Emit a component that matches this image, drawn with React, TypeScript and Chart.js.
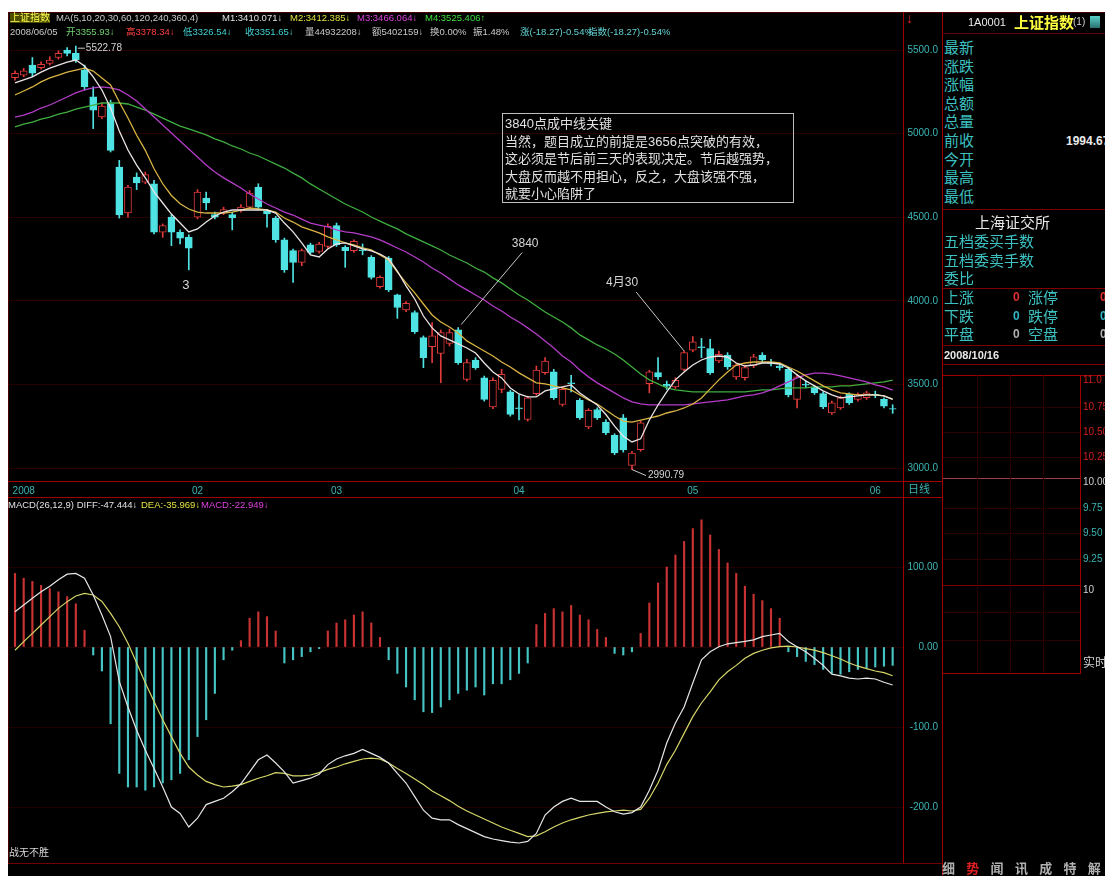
import React, { useEffect, useRef } from 'react';
import { Chart, registerables } from 'chart.js';
Chart.register(...registerables);

// ---------- data ----------
const OPEN = [
  5335, 5350, 5410, 5395, 5420, 5455, 5500, 5480, 5380, 5220,
  5100, 5180, 4800, 4525, 4740, 4710, 4700, 4410, 4500, 4410,
  4380, 4500, 4615, 4515, 4525, 4515, 4540, 4560, 4680, 4535,
  4495, 4365, 4300, 4230, 4335, 4295, 4325, 4450, 4320, 4300,
  4305, 4260, 4085, 4255, 4035, 3945, 3930, 3780, 3725, 3685,
  3745, 3826, 3530, 3645, 3540, 3365, 3470, 3455, 3360, 3290,
  3445, 3570, 3575, 3380, 3510, 3405, 3245, 3350, 3275, 3195,
  3300, 3015, 3110, 3505, 3570, 3500, 3485, 3590, 3705, 3725,
  3715, 3640, 3675, 3545, 3540, 3610, 3676, 3630, 3610, 3590,
  3410, 3500, 3485, 3445, 3330, 3360, 3440, 3410, 3420, 3440,
  3410, 3355.93,
];
const HIGH = [
  5375, 5390, 5455, 5430, 5460, 5495, 5515, 5522.78, 5410, 5280,
  5185, 5200, 4840, 4690, 4765, 4770, 4720, 4460, 4515, 4425,
  4395, 4665, 4650, 4530, 4560, 4530, 4575, 4660, 4700, 4545,
  4505, 4375, 4310, 4310, 4345, 4350, 4460, 4465, 4330, 4365,
  4340, 4270, 4150, 4265, 4040, 3995, 3940, 3790, 3870, 3825,
  3830, 3840, 3650, 3660, 3550, 3540, 3590, 3465, 3437, 3430,
  3610, 3660, 3590, 3480, 3555, 3415, 3355, 3360, 3290, 3205,
  3320, 3100, 3280, 3585, 3660, 3520, 3540, 3700, 3786, 3775,
  3770, 3700, 3690, 3625, 3615, 3680, 3690, 3650, 3625, 3600,
  3560, 3520, 3495, 3455, 3400, 3430, 3450, 3450, 3460, 3460,
  3420, 3378.34,
];
const LOW = [
  5320, 5340, 5340, 5385, 5410, 5445, 5465, 5425, 5260, 5030,
  5090, 4890, 4495, 4500, 4665, 4700, 4400, 4380, 4330, 4340,
  4185, 4490, 4545, 4490, 4515, 4424, 4530, 4550, 4550, 4440,
  4350, 4170, 4110, 4210, 4280, 4285, 4315, 4325, 4200, 4290,
  4275, 4130, 4075, 4055, 3895, 3935, 3805, 3600, 3630, 3510,
  3730, 3620, 3520, 3590, 3400, 3355, 3450, 3310, 3287, 3280,
  3435, 3560, 3410, 3370, 3455, 3290, 3235, 3290, 3200, 3080,
  3095, 2990.79, 3100, 3450, 3530, 3470, 3475, 3580, 3695, 3660,
  3560, 3630, 3590, 3530, 3525, 3600, 3636, 3610, 3585, 3425,
  3360, 3480, 3440, 3355, 3320, 3350, 3380, 3400, 3410, 3420,
  3360, 3326.54,
];
const CLOSE = [
  5360, 5375, 5362, 5415, 5440, 5480, 5480, 5440, 5280, 5140,
  5165, 4900, 4513, 4680, 4705, 4755, 4410, 4450, 4410, 4375,
  4315, 4650, 4585, 4500, 4545, 4495, 4560, 4645, 4560, 4520,
  4365, 4185, 4230, 4300, 4290, 4340, 4445, 4335, 4300, 4355,
  4300, 4140, 4140, 4065, 3960, 3985, 3815, 3660, 3790, 3810,
  3810, 3630, 3630, 3600, 3410, 3525, 3560, 3320, 3355, 3420,
  3585, 3640, 3420, 3470, 3505, 3300, 3345, 3300, 3210, 3090,
  3108, 3090, 3270, 3575, 3545, 3490, 3525, 3690, 3755, 3720,
  3570, 3680, 3605, 3615, 3600, 3665, 3646, 3625, 3600, 3437,
  3545, 3495, 3450, 3365, 3390, 3420, 3390, 3440, 3450, 3435,
  3370, 3351.65,
];
const MA5 = [
  5303, 5321, 5339, 5368, 5392, 5410, 5428, 5440, 5404, 5339,
  5261, 5153, 5016, 4902, 4812, 4735, 4651, 4585, 4519, 4465,
  4412, 4430, 4471, 4507, 4531, 4543, 4543, 4543, 4543, 4543,
  4525, 4465, 4412, 4346, 4274, 4262, 4310, 4340, 4346, 4328,
  4310, 4298, 4280, 4250, 4178, 4089, 4011, 3909, 3838, 3790,
  3766, 3742, 3718, 3688, 3628, 3574, 3539, 3479, 3443, 3425,
  3425, 3461, 3473, 3485, 3497, 3449, 3413, 3377, 3320, 3250,
  3190, 3156, 3175, 3287, 3377, 3455, 3527, 3574, 3616, 3646,
  3664, 3670, 3664, 3628, 3610, 3616, 3628, 3628, 3622, 3598,
  3557, 3521, 3491, 3461, 3437, 3419, 3425, 3431, 3437, 3437,
  3431, 3410.07,
];
const MA10 = [
  5231, 5255, 5279, 5309, 5333, 5350, 5368, 5380, 5392, 5374,
  5333, 5291, 5189, 5093, 4990, 4900, 4790, 4700, 4630, 4580,
  4549, 4531, 4525, 4525, 4525, 4531, 4543, 4555, 4549, 4543,
  4531, 4495, 4471, 4442, 4424, 4406, 4382, 4364, 4346, 4334,
  4316, 4304, 4274, 4244, 4172, 4107, 4047, 3981, 3915, 3873,
  3843, 3808, 3760, 3730, 3700, 3670, 3634, 3604, 3569, 3539,
  3509, 3503, 3491, 3479, 3467, 3437, 3407, 3383, 3347, 3311,
  3281, 3275, 3287, 3299, 3311, 3329, 3341, 3359, 3383, 3419,
  3473, 3527, 3574, 3616, 3628, 3634, 3634, 3634, 3628, 3604,
  3580, 3551, 3521, 3491, 3467, 3449, 3443, 3437, 3437, 3437,
  3431, 3412.39,
];
const MA20 = [
  5099, 5111, 5129, 5153, 5171, 5195, 5219, 5243, 5261, 5273,
  5279, 5273, 5261, 5231, 5195, 5147, 5099, 5051, 5004, 4956,
  4908, 4860, 4812, 4770, 4735, 4705, 4675, 4639, 4609, 4579,
  4555, 4531, 4513, 4489, 4465, 4453, 4442, 4424, 4412, 4406,
  4394, 4382, 4364, 4340, 4316, 4292, 4262, 4232, 4196, 4166,
  4131, 4095, 4065, 4035, 4005, 3969, 3939, 3903, 3873, 3838,
  3802, 3760, 3718, 3670, 3634, 3586, 3545, 3509, 3479, 3449,
  3419, 3395, 3383, 3377, 3377, 3377, 3377, 3377, 3383, 3389,
  3395, 3401, 3407, 3419, 3431, 3437, 3449, 3467, 3491, 3515,
  3539, 3557, 3568, 3568, 3562, 3551, 3539, 3527, 3515, 3497,
  3485, 3466.06,
];
const MA30 = [
  5040, 5057, 5069, 5087, 5099, 5117, 5129, 5147, 5159, 5171,
  5183, 5183, 5183, 5177, 5159, 5141, 5117, 5093, 5069, 5045,
  5028, 5010, 4992, 4968, 4950, 4926, 4908, 4884, 4866, 4842,
  4818, 4794, 4764, 4735, 4699, 4669, 4639, 4609, 4579, 4555,
  4531, 4501, 4477, 4453, 4430, 4400, 4376, 4352, 4328, 4304,
  4274, 4250, 4226, 4196, 4172, 4137, 4107, 4071, 4035, 4005,
  3969, 3933, 3903, 3873, 3838, 3796, 3766, 3736, 3712, 3682,
  3646, 3604, 3562, 3527, 3503, 3479, 3467, 3461, 3455, 3455,
  3455, 3455, 3455, 3455, 3455, 3461, 3467, 3467, 3473, 3479,
  3479, 3479, 3485, 3485, 3485, 3491, 3491, 3497, 3503, 3509,
  3515, 3525.41,
];
const DIFF = [
  44, 52.5, 61, 69, 76, 84, 91, 92, 86, 65,
  40, 13, -43, -75, -104, -129, -152, -175, -200, -208,
  -225, -214, -197, -193, -189, -181, -171, -156, -141, -135,
  -145, -156, -170, -167, -164, -159, -147, -140, -136, -133,
  -128, -133, -138, -145, -158, -170, -187, -204, -214, -216,
  -216, -222, -227, -232, -237, -240, -242, -244, -245, -243,
  -233, -210, -200, -193, -189, -193, -193, -193, -200, -206,
  -209, -207, -200, -179, -154, -120, -95, -75, -45, -16,
  -6, 0.4, 4, 5.5, 7, 9, 13, 15, 17, 7,
  0.4, -6, -14, -23, -34, -36, -39, -40, -39, -40,
  -44, -47.444,
];
const DEA = [
  -4, 6.7, 17, 27.5, 38, 48.3, 56.7, 63.8, 67, 65,
  57, 42, 25.4, 4.6, -20, -45, -68, -91, -112, -133,
  -150, -160, -168, -172, -175, -174, -172, -168, -164, -161,
  -157, -158, -161, -161, -160, -157, -153, -150, -146, -143,
  -140, -139, -140, -145, -152, -158, -165, -172, -180, -186,
  -192, -199, -205, -210, -215, -220, -225, -229, -233, -237,
  -236, -231, -225, -220, -216, -213, -210, -208, -206, -205,
  -204, -205, -203, -189, -170, -147, -129, -108, -87, -70,
  -56, -41, -31, -23, -14, -8, -4, -1, 0.4, 1,
  0, -2, -4, -7, -11, -15, -20, -24, -27, -30,
  -32, -35.969,
];
const MACD = [
  92, 86, 82, 77, 73, 69, 63, 54, 21, -10,
  -30, -96, -158, -175, -175, -179, -175, -170, -166, -158,
  -141, -112, -91, -58, -16, -4, 8, 36, 44, 38,
  20, -20, -16, -12, -6, -2, 20, 30, 34, 40,
  44, 30, 12, -16, -33, -50, -66, -81, -82, -75,
  -66, -58, -54, -50, -60, -46, -46, -41, -33, -20,
  28, 42, 48, 44, 52, 40, 34, 22, 12, -8,
  -10, -6, 17, 55, 80, 100, 115, 132, 148, 159,
  140, 122, 105, 92, 76, 66, 58, 48, 36, -6,
  -12, -18, -22, -28, -33, -34, -31, -28, -26, -25,
  -24, -22.949,
];
const PRICE_TICKS = [3000, 3500, 4000, 4500, 5000, 5500];
const MACD_TICKS = [100, 0, -100, -200];
const MACD_TICK_TEXT = ['100.00', '0.00', '-100.0', '-200.0'];
const MONTH_TICKS = [1, 21, 37, 58, 78, 99];
const MONTH_LABELS = ['2008', '02', '03', '04', '05', '06'];

// annotations anchored on candles (index, value)
const NOTES = [
  { i: 7, v: 5522.78, text: '5522.78', line: [2, 2, 9, 2], t: [10, 2], align: 'left', size: 10 },
  { i: 71, v: 2990.79, text: '2990.79', line: [0, 0, 14, 6], t: [16, 6], align: 'left', size: 10 },
  { i: 20, v: 4185, text: '3', line: null, t: [-3, 16], align: 'center', size: 13 },
  { i: 51, v: 3840, text: '3840', line: [3, -3, 64, -75], t: [67, -84], align: 'center', size: 12 },
  { i: 77, v: 3700, text: '4月30', line: [0, 0, -48, -59], t: [-62, -68], align: 'center', size: 12 },
];

// ---------- layout constants ----------
const X_MIN = -0.806;
const X_MAX = 102.19;
const P_MIN = 2916.3;
const P_MAX = 5727.3;
const M_MIN = -270;
const M_MAX = 186.25;
const UP = '#e03a3a';
const DOWN = '#4fe3e3';
const TEAL = '#3cb4b4';
const FONT = "'Liberation Sans', 'Noto Sans CJK SC', sans-serif";

const idx = CLOSE.map((_, i) => i);
const isUp = (i: number) => CLOSE[i] >= OPEN[i];

const notesPlugin = {
  id: 'notes',
  afterDatasetsDraw(chart: any) {
    const { ctx, scales } = chart;
    const xs = scales.x, ys = scales.y;
    ctx.save();
    ctx.strokeStyle = '#c8c8c8';
    ctx.fillStyle = '#d4d4d4';
    ctx.lineWidth = 1;
    ctx.textBaseline = 'middle';
    NOTES.forEach((n) => {
      const px = xs.getPixelForValue(n.i);
      const py = ys.getPixelForValue(n.v);
      if (n.line) {
        ctx.beginPath();
        ctx.moveTo(px + n.line[0], py + n.line[1]);
        ctx.lineTo(px + n.line[2], py + n.line[3]);
        ctx.stroke();
      }
      ctx.font = `${n.size}px ${FONT}`;
      ctx.textAlign = n.align;
      ctx.fillText(n.text, px + n.t[0], py + n.t[1]);
    });
    ctx.restore();
  },
};

function priceConfig(): any {
  return {
    type: 'bar',
    data: {
      datasets: [
        { type: 'line', label: 'MA5', data: idx.map((i) => ({ x: i, y: MA5[i] })), borderColor: '#ece4e4', borderWidth: 1.3, pointRadius: 0, order: 0 },
        { type: 'line', label: 'MA10', data: idx.map((i) => ({ x: i, y: MA10[i] })), borderColor: '#d9b443', borderWidth: 1.3, pointRadius: 0, order: 0 },
        { type: 'line', label: 'MA20', data: idx.map((i) => ({ x: i, y: MA20[i] })), borderColor: '#b43cc8', borderWidth: 1.3, pointRadius: 0, order: 0 },
        { type: 'line', label: 'MA30', data: idx.map((i) => ({ x: i, y: MA30[i] })), borderColor: '#3fae3f', borderWidth: 1.3, pointRadius: 0, order: 0 },
        {
          type: 'bar', label: 'body',
          data: idx.map((i) => ({ x: i, y: [OPEN[i], CLOSE[i]] })),
          backgroundColor: idx.map((i) => (isUp(i) ? '#000000' : DOWN)),
          borderColor: idx.map((i) => (isUp(i) ? UP : DOWN)),
          borderWidth: 1, borderSkipped: false, barThickness: 7, grouped: false, order: 1,
        },
        {
          type: 'bar', label: 'wick',
          data: idx.map((i) => ({ x: i, y: [LOW[i], HIGH[i]] })),
          backgroundColor: idx.map((i) => (isUp(i) ? UP : DOWN)),
          borderWidth: 0, barThickness: 1, grouped: false, order: 2,
        },
      ],
    },
    options: {
      animation: false, responsive: false, maintainAspectRatio: false, events: [],
      layout: { padding: 0 },
      plugins: { legend: { display: false }, tooltip: { enabled: false } },
      scales: {
        x: {
          type: 'linear', min: X_MIN, max: X_MAX, offset: false, position: 'bottom',
          afterBuildTicks: (s: any) => { s.ticks = MONTH_TICKS.map((v) => ({ value: v })); },
          afterFit: (s: any) => { s.height = 16; s.paddingLeft = 0; s.paddingRight = 0; },
          ticks: { autoSkip: false, maxRotation: 0, color: TEAL, padding: 3, font: { size: 10, family: FONT }, callback: (_v: any, k: number) => MONTH_LABELS[k] },
          grid: { display: false, drawTicks: false }, border: { display: false },
        },
        y: {
          position: 'right', min: P_MIN, max: P_MAX,
          afterBuildTicks: (s: any) => { s.ticks = PRICE_TICKS.map((v) => ({ value: v })); },
          afterFit: (s: any) => { s.width = 35; s.paddingTop = 0; s.paddingBottom = 0; },
          ticks: { color: TEAL, padding: 4, crossAlign: 'far', font: { size: 10, family: FONT }, callback: (v: any) => Number(v).toFixed(1) },
          grid: { color: 'rgba(90,0,0,0.45)', drawTicks: false }, border: { display: false },
        },
      },
    },
    plugins: [notesPlugin],
  };
}

function macdConfig(): any {
  return {
    type: 'bar',
    data: {
      datasets: [
        { type: 'line', label: 'DIFF', data: idx.map((i) => ({ x: i, y: DIFF[i] })), borderColor: '#e6e6e6', borderWidth: 1.2, pointRadius: 0, order: 0 },
        { type: 'line', label: 'DEA', data: idx.map((i) => ({ x: i, y: DEA[i] })), borderColor: '#d6d66a', borderWidth: 1.2, pointRadius: 0, order: 0 },
        {
          type: 'bar', label: 'MACD',
          data: idx.map((i) => ({ x: i, y: MACD[i] })),
          backgroundColor: idx.map((i) => (MACD[i] >= 0 ? '#c83232' : '#45c4c4')),
          borderWidth: 0, barThickness: 1.5, grouped: false, order: 1,
        },
      ],
    },
    options: {
      animation: false, responsive: false, maintainAspectRatio: false, events: [],
      layout: { padding: 0 },
      plugins: { legend: { display: false }, tooltip: { enabled: false } },
      scales: {
        x: { type: 'linear', min: X_MIN, max: X_MAX, offset: false, display: false },
        y: {
          position: 'right', min: M_MIN, max: M_MAX,
          afterBuildTicks: (s: any) => { s.ticks = MACD_TICKS.map((v) => ({ value: v })); },
          afterFit: (s: any) => { s.width = 35; s.paddingTop = 0; s.paddingBottom = 0; },
          ticks: { color: TEAL, padding: 4, crossAlign: 'far', font: { size: 10, family: FONT }, callback: (_v: any, k: number) => MACD_TICK_TEXT[k] },
          grid: { color: 'rgba(80,0,0,0.4)', drawTicks: false }, border: { display: false },
        },
      },
    },
  };
}

// page coords -> container coords (container at 8,12)
const T = ({ x, y, c = '#c8c8c8', s = 10, b = false, bg, children }: any) => (
  <span style={{ position: 'absolute', left: x - 8, top: y - 12, transform: 'translateY(-50%)', color: c, fontSize: s, fontWeight: b ? 'bold' : 'normal', whiteSpace: 'nowrap', lineHeight: 1, background: bg }}>{children}</span>
);
const HL = ({ x1, x2, y, c = '#a00000' }: any) => (
  <div style={{ position: 'absolute', left: x1 - 8, top: y - 12, width: x2 - x1, height: 1, background: c }} />
);
const VL = ({ x, y1, y2, c = '#a00000' }: any) => (
  <div style={{ position: 'absolute', left: x - 8, top: y1 - 12, width: 1, height: y2 - y1, background: c }} />
);

const LIST1 = ['最新', '涨跌', '涨幅', '总额', '总量', '前收', '今开', '最高', '最低'];
const LIST2 = ['五档委买手数', '五档委卖手数', '委比'];
const LIST3 = ['上涨', '下跌', '平盘'];
const LIST3B = ['涨停', '跌停', '空盘'];
const DOT_COLORS = ['#e03030', '#30b8c8', '#b0b0b0'];
const MINI_LABELS = [
  ['11.0', '#d02020', 380], ['10.75', '#d02020', 407], ['10.50', '#d02020', 432], ['10.25', '#d02020', 457],
  ['10.00', '#d0d0d0', 482], ['9.75', TEAL, 508], ['9.50', TEAL, 533], ['9.25', TEAL, 559], ['10', '#d0d0d0', 590],
];
const TABS = ['细', '势', '闻', '讯', '成', '特', '解'];

export default function App() {
  const priceRef = useRef<HTMLCanvasElement>(null);
  const macdRef = useRef<HTMLCanvasElement>(null);
  useEffect(() => {
    const p = new Chart(priceRef.current as HTMLCanvasElement, priceConfig());
    const m = new Chart(macdRef.current as HTMLCanvasElement, macdConfig());
    return () => { p.destroy(); m.destroy(); };
  }, []);

  return (
    <div style={{ position: 'fixed', left: 8, top: 12, width: 1097, height: 864, background: '#000', overflow: 'hidden', fontFamily: FONT }}>
      <canvas ref={priceRef} width={930} height={486} style={{ position: 'absolute', left: 0, top: 0, width: 930, height: 486, display: 'block' }} />
      <canvas ref={macdRef} width={930} height={365} style={{ position: 'absolute', left: 0, top: 486, width: 930, height: 365, display: 'block' }} />

      {/* frame lines */}
      <HL x1={8} x2={1105} y={12} c="#4a0000" />
      <VL x={8} y1={12} y2={864} c="#4a0000" />
      <VL x={903} y1={12} y2={864} />
      <VL x={942} y1={12} y2={876} />
      <HL x1={8} x2={942} y={481} />
      <HL x1={8} x2={942} y={497} />
      <HL x1={8} x2={942} y={863} c="#700000" />

      {/* header row 1 */}
      <T x={10} y={18} c="#ffff50" bg="#4e4e00">上证指数</T>
      <T x={56} y={18} s={9.5}>MA(5,10,20,30,60,120,240,360,4)</T>
      <T x={222} y={18} s={9.5} c="#e0e0e0">M1:3410.071↓</T>
      <T x={290} y={18} s={9.5} c="#e0e040">M2:3412.385↓</T>
      <T x={357} y={18} s={9.5} c="#e040e0">M3:3466.064↓</T>
      <T x={425} y={18} s={9.5} c="#40e040">M4:3525.406↑</T>
      {/* header row 2 */}
      <T x={10} y={32} s={9.5}>2008/06/05</T>
      <T x={66} y={32} s={9.5} c="#70d070">开3355.93↓</T>
      <T x={126} y={32} s={9.5} c="#ff4040">高3378.34↓</T>
      <T x={183} y={32} s={9.5} c="#40d0d0">低3326.54↓</T>
      <T x={245} y={32} s={9.5} c="#40d0d0">收3351.65↓</T>
      <T x={305} y={32} s={9.5}>量44932208↓</T>
      <T x={372} y={32} s={9.5}>额5402159↓</T>
      <T x={430} y={32} s={9.5}>换0.00%</T>
      <T x={473} y={32} s={9.5}>振1.48%</T>
      <T x={520} y={32} s={9.5} c="#60d0d0">涨(-18.27)-0.54%</T>
      <T x={588} y={32} s={9.5} c="#60d0d0">指数(-18.27)-0.54%</T>

      {/* comment box */}
      <div style={{ position: 'absolute', left: 494, top: 101, width: 292, height: 90, border: '1px solid #bdbdbd', color: '#e0e0e0', fontSize: 13, lineHeight: '17.5px', padding: '1px 2px', boxSizing: 'border-box', whiteSpace: 'nowrap', overflow: 'hidden' }}>
        <div>3840点成中线关键</div>
        <div>当然，题目成立的前提是3656点突破的有效，</div>
        <div>这必须是节后前三天的表现决定。节后越强势，</div>
        <div>大盘反而越不用担心，反之，大盘该强不强，</div>
        <div>就要小心陷阱了</div>
      </div>

      {/* axis column extras */}
      <T x={906} y={18} c="#e02020" s={14} b>↓</T>
      <T x={908} y={489} c={TEAL} s={11}>日线</T>

      {/* MACD header */}
      <T x={8} y={505} s={9.5} c="#e0e0e0">MACD(26,12,9) DIFF:-47.444↓</T>
      <T x={141} y={505} s={9.5} c="#e0e040">DEA:-35.969↓</T>
      <T x={201} y={505} s={9.5} c="#e040e0">MACD:-22.949↓</T>
      <T x={9} y={853} s={10} c="#d8d8d8">战无不胜</T>

      {/* right info panel */}
      <T x={968} y={22} s={11} c="#e8e8e8">1A0001</T>
      <T x={1014} y={22} s={15} b c="#ffff40">上证指数</T>
      <T x={1073} y={22} s={10} c="#d0d0d0">(1)</T>
      <div style={{ position: 'absolute', left: 1090 - 8, top: 16 - 12, width: 10, height: 12, background: 'linear-gradient(#5ad0c8,#2a7070)' }} />
      <HL x1={942} x2={1105} y={33} c="#600000" />
      {LIST1.map((t, k) => (
        <T key={t} x={944} y={47 + k * 18.6} s={15} c="#3cc0c0">{t}</T>
      ))}
      <T x={1066} y={141} s={12} b c="#e8e8e8">1994.67</T>
      <HL x1={942} x2={1105} y={209} c="#800000" />
      <T x={975} y={222} s={15} c="#e8e8e8">上海证交所</T>
      {LIST2.map((t, k) => (
        <T key={t} x={944} y={241 + k * 18.6} s={15} c="#3cc0c0">{t}</T>
      ))}
      <HL x1={942} x2={1105} y={288} c="#800000" />
      {LIST3.map((t, k) => (
        <T key={t} x={944} y={297 + k * 18.6} s={15} c="#3cc0c0">{t}</T>
      ))}
      {LIST3B.map((t, k) => (
        <T key={t} x={1028} y={297 + k * 18.6} s={15} c="#3cc0c0">{t}</T>
      ))}
      {DOT_COLORS.map((c, k) => (
        <T key={'a' + k} x={1013} y={297 + k * 18.6} s={12} b c={c}>0</T>
      ))}
      {DOT_COLORS.map((c, k) => (
        <T key={'b' + k} x={1100} y={297 + k * 18.6} s={12} b c={c}>0</T>
      ))}
      <HL x1={942} x2={1105} y={345} c="#800000" />
      <T x={944} y={355} s={11} b c="#e8e8e8">2008/10/16</T>
      <HL x1={942} x2={1105} y={364} c="#800000" />

      {/* mini intraday frame */}
      <HL x1={943} x2={1105} y={375} />
      <HL x1={943} x2={1081} y={478} c="#a04040" />
      <HL x1={943} x2={1081} y={585} c="#800000" />
      <HL x1={943} x2={1081} y={673} />
      <VL x={1080} y1={375} y2={673} />
      {[407, 432, 457, 508, 533, 559, 612, 640].map((y) => (
        <HL key={y} x1={943} x2={1080} y={y} c="#2a0000" />
      ))}
      {[977, 1010, 1043].map((x) => (
        <VL key={x} x={x} y1={375} y2={673} c="#2a0000" />
      ))}
      {MINI_LABELS.map(([t, c, y]: any) => (
        <T key={t} x={1083} y={y} s={10} c={c}>{t}</T>
      ))}
      <T x={1083} y={663} s={12} c="#d0d0d0">实时</T>

      {/* bottom tabs */}
      {TABS.map((t, k) => (
        <T key={t} x={942 + k * 24.3} y={868} s={13} b c={k === 1 ? '#e02020' : '#b0b0b0'}>{t}</T>
      ))}
    </div>
  );
}
